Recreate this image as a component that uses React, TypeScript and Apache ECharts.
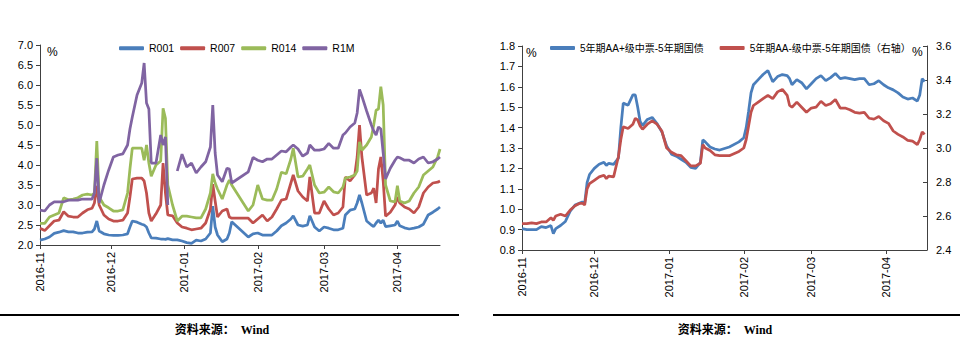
import React, { useEffect, useRef } from 'react';
import * as echarts from 'echarts';

// ---------- Left chart: interbank repo rates ----------
const leftDates = [
  '2016-11-01','2016-11-03','2016-11-05','2016-11-07','2016-11-09','2016-11-11','2016-11-13','2016-11-15','2016-11-17','2016-11-19',
  '2016-11-21','2016-11-23','2016-11-24','2016-11-25','2016-11-26','2016-11-28','2016-11-30','2016-12-02','2016-12-04','2016-12-06',
  '2016-12-08','2016-12-09','2016-12-10','2016-12-12','2016-12-14','2016-12-15','2016-12-16','2016-12-17','2016-12-18','2016-12-20',
  '2016-12-22','2016-12-23','2016-12-24','2016-12-25','2016-12-27','2016-12-29','2016-12-31','2017-01-02','2017-01-04','2017-01-06',
  '2017-01-08','2017-01-10','2017-01-12','2017-01-13','2017-01-14','2017-01-15','2017-01-17','2017-01-19','2017-01-20','2017-01-21',
  '2017-01-28','2017-01-30','2017-02-01','2017-02-03','2017-02-05','2017-02-07','2017-02-09','2017-02-11','2017-02-13','2017-02-15',
  '2017-02-16','2017-02-18','2017-02-20','2017-02-22','2017-02-23','2017-02-25','2017-02-27','2017-03-01','2017-03-03','2017-03-05',
  '2017-03-07','2017-03-09','2017-03-10','2017-03-12','2017-03-14','2017-03-15','2017-03-16','2017-03-17','2017-03-19','2017-03-21',
  '2017-03-22','2017-03-23','2017-03-24','2017-03-25','2017-03-26','2017-03-27','2017-03-29','2017-03-31','2017-04-01','2017-04-02',
  '2017-04-04','2017-04-06','2017-04-08','2017-04-10','2017-04-12','2017-04-14','2017-04-16','2017-04-18','2017-04-19',
];
const r001 = [
  2.12,2.15,2.2,2.29,2.32,2.36,2.33,2.33,2.3,2.3,
  2.32,2.33,2.4,2.6,2.35,2.28,2.25,2.24,2.24,2.25,
  2.28,2.45,2.6,2.57,2.52,2.5,2.45,2.3,2.18,2.17,
  2.15,2.15,2.14,2.16,2.13,2.13,2.1,2.06,2.04,2.12,
  2.1,2.15,2.3,2.97,2.45,2.25,2.08,2.15,2.3,2.58,
  2.2,2.28,2.3,2.25,2.25,2.25,2.35,2.48,2.55,2.65,
  2.73,2.5,2.47,2.5,2.73,2.45,2.35,2.45,2.42,2.38,
  2.38,2.42,2.75,2.87,2.9,3.05,3.25,3.05,2.6,2.5,
  2.46,2.55,2.62,2.55,2.62,2.46,2.48,2.5,2.6,2.48,
  2.43,2.4,2.42,2.45,2.52,2.75,2.82,2.9,2.95,
];
const r007 = [
  2.42,2.36,2.48,2.6,2.62,2.83,2.72,2.7,2.7,2.8,
  2.88,2.92,3.05,3.48,3.0,2.75,2.65,2.6,2.6,2.62,
  2.8,3.2,3.65,3.67,3.67,3.6,3.3,2.8,2.6,2.78,
  3.0,4.05,3.3,2.75,2.73,2.55,2.45,2.42,2.38,2.4,
  2.42,2.55,2.9,3.52,3.1,2.7,2.85,2.9,2.7,2.67,
  2.67,2.55,2.65,2.75,2.6,2.7,2.9,3.12,3.15,3.55,
  3.75,3.35,3.2,3.1,3.7,2.8,2.8,3.1,2.9,2.75,
  2.8,2.95,3.7,3.6,3.75,4.2,5.0,4.2,3.25,3.3,
  3.42,3.05,3.9,4.2,3.6,2.72,2.82,3.0,3.2,3.05,
  2.95,2.9,2.8,2.95,3.3,3.45,3.55,3.57,3.6,
];
const r014 = [
  2.54,2.54,2.7,2.75,2.8,3.18,3.13,3.15,3.18,3.25,
  3.27,3.25,3.3,4.6,3.2,3.0,2.93,2.85,2.85,2.88,
  3.3,3.9,4.42,4.42,4.42,4.12,4.5,4.05,3.72,4.0,
  4.1,5.42,5.17,3.5,3.0,2.6,2.72,2.72,2.7,2.68,
  2.68,2.9,3.3,3.78,3.55,3.4,3.15,3.5,3.62,3.5,
  2.85,3.0,3.5,3.15,3.12,3.12,3.4,3.82,3.78,4.15,
  4.42,3.7,3.72,3.9,4.0,3.5,3.3,3.32,3.45,3.33,
  3.3,3.45,3.67,3.7,3.75,3.85,4.58,4.37,4.5,4.7,
  5.0,5.37,5.4,5.96,5.5,3.5,3.1,3.08,3.48,3.1,
  3.05,3.1,3.3,3.45,3.75,3.85,3.95,4.2,4.4,
];
const r1m: (number | null)[] = [
  2.87,2.85,3.0,3.08,3.08,3.08,3.12,3.12,3.12,3.15,
  3.15,3.15,3.3,4.17,3.05,3.5,3.87,4.2,4.25,4.28,
  4.5,4.9,5.2,5.75,6.05,6.55,5.55,5.4,4.05,4.05,
  4.75,4.5,4.7,3.0,null,3.85,4.27,3.95,4.05,3.8,
  3.95,4.08,4.45,5.5,4.3,3.75,3.58,3.92,3.9,3.55,
  3.83,4.19,4.12,4.08,4.15,4.15,4.25,4.35,4.33,4.45,
  4.5,4.4,4.22,4.3,4.5,4.37,4.37,4.4,4.54,4.42,
  4.42,4.75,4.8,4.95,5.05,5.3,5.89,5.72,5.35,5.0,
  4.85,4.75,4.95,4.9,4.3,3.65,3.92,4.12,4.2,4.18,
  4.12,4.12,4.05,4.15,4.2,4.05,4.08,4.15,4.2,
];
const leftNames = ['R001', 'R007', 'R014', 'R1M'];
const leftRange = ['2016-11-01', '2017-04-19'];

// ---------- Right chart: credit spreads ----------
const rightDates = [
  '2016-11-01','2016-11-03','2016-11-05','2016-11-07','2016-11-09','2016-11-11','2016-11-13','2016-11-14','2016-11-15','2016-11-17',
  '2016-11-19','2016-11-21','2016-11-23','2016-11-25','2016-11-26','2016-11-27','2016-11-28','2016-11-29','2016-12-01','2016-12-03',
  '2016-12-05','2016-12-06','2016-12-07','2016-12-09','2016-12-11','2016-12-12','2016-12-13','2016-12-15','2016-12-17','2016-12-18',
  '2016-12-19','2016-12-20','2016-12-21','2016-12-23','2016-12-25','2016-12-27','2016-12-29','2016-12-31','2017-01-02','2017-01-04',
  '2017-01-06','2017-01-08','2017-01-10','2017-01-12','2017-01-14','2017-01-15','2017-01-16','2017-01-18','2017-01-20','2017-01-22',
  '2017-01-26','2017-01-30','2017-02-01','2017-02-02','2017-02-03','2017-02-04','2017-02-05','2017-02-07','2017-02-09','2017-02-11',
  '2017-02-13','2017-02-15','2017-02-17','2017-02-19','2017-02-20','2017-02-21','2017-02-23','2017-02-25','2017-02-27','2017-03-01',
  '2017-03-03','2017-03-05','2017-03-07','2017-03-09','2017-03-11','2017-03-13','2017-03-15','2017-03-17','2017-03-19','2017-03-21',
  '2017-03-23','2017-03-25','2017-03-27','2017-03-29','2017-03-31','2017-04-02','2017-04-04','2017-04-06','2017-04-08','2017-04-10',
  '2017-04-12','2017-04-14','2017-04-15','2017-04-16','2017-04-17',
];
const spreadAAPlus = [
  0.905,0.9,0.9,0.9,0.915,0.91,0.92,0.88,0.905,0.92,
  0.94,0.99,1.02,1.03,1.035,1.03,1.13,1.17,1.2,1.22,
  1.23,1.215,1.225,1.22,1.25,1.4,1.52,1.51,1.56,1.56,
  1.5,1.43,1.41,1.44,1.45,1.42,1.38,1.31,1.27,1.26,
  1.245,1.23,1.205,1.2,1.23,1.34,1.33,1.305,1.295,1.29,
  1.305,1.33,1.35,1.4,1.48,1.57,1.61,1.635,1.66,1.68,
  1.625,1.65,1.66,1.655,1.64,1.61,1.635,1.62,1.59,1.615,
  1.64,1.655,1.63,1.645,1.665,1.64,1.645,1.64,1.635,1.64,
  1.64,1.61,1.615,1.63,1.61,1.595,1.585,1.57,1.55,1.54,
  1.545,1.53,1.56,1.64,1.625,
];
const spreadAAMinus = [
  2.555,2.555,2.56,2.555,2.565,2.565,2.59,2.575,2.6,2.61,
  2.6,2.635,2.66,2.675,2.675,2.665,2.76,2.79,2.81,2.83,
  2.84,2.82,2.835,2.83,2.95,3.05,3.125,3.115,3.14,3.175,
  3.165,3.13,3.11,3.14,3.16,3.14,3.1,3.0,2.975,2.96,
  2.955,2.925,2.895,2.895,2.91,3.02,3.0,2.985,2.96,2.955,
  2.955,2.98,3.0,3.05,3.13,3.21,3.25,3.27,3.29,3.31,
  3.29,3.33,3.345,3.31,3.25,3.24,3.27,3.24,3.21,3.235,
  3.24,3.275,3.25,3.26,3.285,3.235,3.235,3.225,3.21,3.205,
  3.21,3.175,3.17,3.185,3.16,3.145,3.1,3.08,3.065,3.045,
  3.04,3.02,3.05,3.095,3.08,
];
const rightNames = ['5年期AA+级中票-5年期国债', '5年期AA-级中票-5年期国债（右轴）'];
const rightRange = ['2016-11-01', '2017-04-18'];

const monthTicks = ['2016-11-01', '2016-12-01', '2017-01-01', '2017-02-01', '2017-03-01', '2017-04-01'];
const sourceText = '资料来源：  Wind';

const COLORS = { blue: '#4a7ebb', red: '#c0504d', green: '#9bbb59', purple: '#8064a2' };
const FONT = '"Liberation Sans", Arial, "Noto Sans CJK SC", sans-serif';
const SERIF = '"Liberation Serif", "Times New Roman", "Noto Sans CJK SC", serif';

const ts = (s: string) => Date.parse(s + 'T00:00:00Z');
const monthFmt = (v: number) => {
  const d = new Date(v);
  return d.getUTCFullYear() + '-' + String(d.getUTCMonth() + 1).padStart(2, '0');
};
const pairs = (dates: string[], vals: (number | null)[]) =>
  dates.map((d, i) => [ts(d), vals[i] == null ? '-' : vals[i]]);

const axisLineStyle = { color: '#404040', width: 1 };

function xAxis(gridIndex: number, range: string[]) {
  const ticks = monthTicks.map(ts);
  return {
    gridIndex,
    type: 'value',
    min: ts(range[0]),
    max: ts(range[1]),
    splitLine: { show: false },
    axisLine: { show: true, lineStyle: axisLineStyle },
    axisTick: { show: true, customValues: ticks, length: 4, lineStyle: axisLineStyle },
    axisLabel: {
      customValues: ticks,
      rotate: 90,
      margin: 7,
      fontSize: 11,
      color: '#000',
      fontFamily: FONT,
      formatter: (v: number) => monthFmt(v),
    },
  };
}

function yAxis(gridIndex: number, min: number, max: number, interval: number, position: string, inside: boolean) {
  return {
    gridIndex,
    type: 'value',
    position,
    min,
    max,
    interval,
    splitLine: { show: false },
    axisLine: { show: true, lineStyle: axisLineStyle },
    axisTick: { show: true, inside, length: 4, lineStyle: axisLineStyle },
    axisLabel: {
      margin: inside ? 9 : 7,
      fontSize: 11,
      color: '#000',
      fontFamily: FONT,
      formatter: (v: number) => v.toFixed(1),
    },
  };
}

function lineSeries(name: string, color: string, xAxisIndex: number, yAxisIndex: number, data: any[]) {
  return {
    name,
    type: 'line',
    xAxisIndex,
    yAxisIndex,
    data,
    symbol: 'none',
    showSymbol: false,
    connectNulls: false,
    color,
    lineStyle: { color, width: 2.75 },
    emphasis: { disabled: true },
  };
}

export default function App() {
  const ref = useRef<HTMLDivElement>(null);
  useEffect(() => {
    if (!ref.current) return;
    const chart = echarts.init(ref.current, null, { renderer: 'svg' });
    const legendBase = {
      top: 38,
      itemWidth: 25,
      itemHeight: 4,
      icon: 'roundRect',
      selectedMode: false,
    };
    chart.setOption({
      animation: false,
      backgroundColor: '#ffffff',
      textStyle: { fontFamily: FONT },
      grid: [
        { left: 40, top: 45, width: 400, height: 200 },
        { left: 522, top: 46, width: 405, height: 204 },
      ],
      legend: [
        {
          ...legendBase, left: 114, itemGap: 6, data: leftNames,
          textStyle: { fontSize: 10.5, color: '#000', fontFamily: FONT },
        },
        {
          ...legendBase, left: 545, itemGap: 16, data: rightNames,
          textStyle: { fontSize: 10, color: '#000', fontFamily: FONT },
        },
      ],
      xAxis: [xAxis(0, leftRange), xAxis(1, rightRange)],
      yAxis: [
        yAxis(0, 2, 7, 0.5, 'left', false),
        yAxis(1, 0.8, 1.8, 0.1, 'left', false),
        yAxis(1, 2.4, 3.6, 0.2, 'right', true),
      ],
      series: [
        lineSeries(leftNames[0], COLORS.blue, 0, 0, pairs(leftDates, r001)),
        lineSeries(leftNames[1], COLORS.red, 0, 0, pairs(leftDates, r007)),
        lineSeries(leftNames[2], COLORS.green, 0, 0, pairs(leftDates, r014)),
        lineSeries(leftNames[3], COLORS.purple, 0, 0, pairs(leftDates, r1m)),
        lineSeries(rightNames[0], COLORS.blue, 1, 1, pairs(rightDates, spreadAAPlus)),
        lineSeries(rightNames[1], COLORS.red, 1, 2, pairs(rightDates, spreadAAMinus)),
      ],
      graphic: [
        { type: 'text', left: 47, top: 46, style: { text: '%', fontSize: 12, fill: '#000', fontFamily: FONT } },
        { type: 'text', left: 526, top: 47, style: { text: '%', fontSize: 12, fill: '#000', fontFamily: FONT } },
        { type: 'text', left: 912, top: 46, style: { text: '%', fontSize: 12, fill: '#000', fontFamily: FONT } },
        { type: 'line', shape: { x1: 0, y1: 315, x2: 459, y2: 315 }, style: { stroke: '#000', lineWidth: 2 } },
        { type: 'line', shape: { x1: 493, y1: 315, x2: 960, y2: 315 }, style: { stroke: '#000', lineWidth: 2 } },
        {
          type: 'text', x: 222, y: 330,
          style: { text: sourceText, fontSize: 12, fontWeight: 'bold', fill: '#000', fontFamily: SERIF, align: 'center', verticalAlign: 'middle' },
        },
        {
          type: 'text', x: 725, y: 330,
          style: { text: sourceText, fontSize: 12, fontWeight: 'bold', fill: '#000', fontFamily: SERIF, align: 'center', verticalAlign: 'middle' },
        },
      ],
    });
    return () => chart.dispose();
  }, []);
  return <div ref={ref} style={{ position: 'fixed', left: 0, top: 0, width: 978, height: 356 }} />;
}
